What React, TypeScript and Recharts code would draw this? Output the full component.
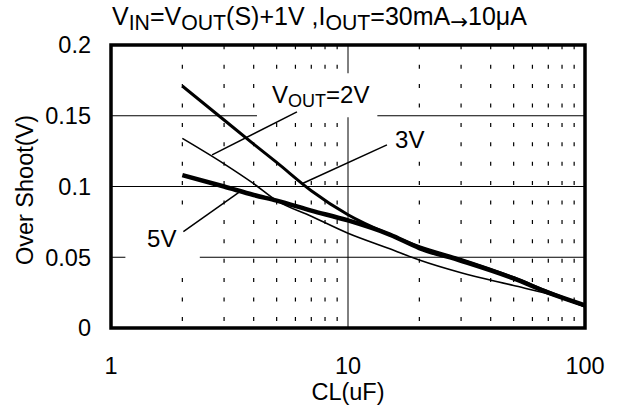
import {
  LineChart,
  Line,
  XAxis,
  YAxis,
  CartesianGrid,
  ReferenceLine,
  ReferenceArea,
  ReferenceDot,
} from 'recharts';

// CL (uF) sample points, shared by all three curves
const CL = [2, 3, 4, 5, 7, 10, 15, 20, 30, 50, 70, 100];

// over shoot (V) per output voltage
const VOUT_2V = [0.134, 0.116, 0.102, 0.09, 0.079, 0.067, 0.056, 0.048, 0.039, 0.03, 0.024, 0.015];
const VOUT_3V = [0.171, 0.147, 0.13, 0.117, 0.097, 0.08, 0.066, 0.0575, 0.0485, 0.0355, 0.0255, 0.0155];
const VOUT_5V = [0.108, 0.1, 0.094, 0.09, 0.083, 0.076, 0.066, 0.0565, 0.0475, 0.035, 0.025, 0.016];

const X_TICKS = [1, 10, 100];
const Y_TICKS = [0, 0.05, 0.1, 0.15, 0.2];
const MINOR_X = [2, 3, 4, 5, 6, 7, 8, 9, 20, 30, 40, 50, 60, 70, 80, 90];
const MAJOR_X = [10];
const GRID_Y = [0.05, 0.1, 0.15];

const data = CL.map((cl, i) => ({
  cl,
  v2: VOUT_2V[i],
  v3: VOUT_3V[i],
  v5: VOUT_5V[i],
}));

const FONT = 'Arial, "Liberation Sans", sans-serif';
const TICK_SIZE = 23.5;
const LABEL_SIZE = 24;

// white boxes behind the curve labels (they blank out the grid)
const labelBoxes = [
  { x1: 4.13, x2: 13.3, y1: 0.149, y2: 0.18 },
  { x1: 13.7, x2: 23.3, y1: 0.119, y2: 0.147 },
  { x1: 1.15, x2: 2.37, y1: 0.041, y2: 0.08 },
];

// leader lines from label to curve
const leaders = [
  [{ x: 6.09, y: 0.1527 }, { x: 2.67, y: 0.1223 }],
  [{ x: 14.6, y: 0.1294 }, { x: 6.46, y: 0.1023 }],
  [{ x: 2.02, y: 0.0681 }, { x: 3.5, y: 0.0964 }],
];

function CurveLabel(props: any) {
  const { cx, cy, name } = props;
  if (name === '2V') {
    return (
      <text x={cx} y={cy} fontSize={LABEL_SIZE} fontFamily={FONT} fill="#000">
        <tspan>V</tspan>
        <tspan fontSize={18} dy={4}>OUT</tspan>
        <tspan dy={-4}>=2V</tspan>
      </text>
    );
  }
  return (
    <text x={cx} y={cy} fontSize={LABEL_SIZE} fontFamily={FONT} fill="#000">
      {name}
    </text>
  );
}

const sub = { fontSize: '0.85em', position: 'relative' as const, top: 5 };

export default function App() {
  return (
    <div style={{ position: 'relative', width: 620, height: 409, background: '#fff', fontFamily: FONT }}>
      <style>{'body{margin:0}'}</style>
      <div
        style={{
          position: 'absolute',
          left: 112,
          top: 2,
          fontSize: 25,
          color: '#000',
          whiteSpace: 'nowrap',
          lineHeight: '28px',
        }}
      >
        V<span style={sub}>IN</span>=V<span style={sub}>OUT</span>(S)+1V ,I<span style={sub}>OUT</span>=30mA
        <span style={{ fontSize: '0.85em', fontFamily: '"DejaVu Sans", sans-serif', position: 'relative', top: 4 }}>→</span>10μA
      </div>
      <div
        style={{
          position: 'absolute',
          left: 25,
          top: 190,
          transform: 'translate(-50%, -50%) rotate(-90deg)',
          fontSize: TICK_SIZE,
          color: '#000',
          whiteSpace: 'nowrap',
        }}
      >
        Over Shoot(V)
      </div>
      <LineChart
        width={620}
        height={409}
        data={data}
        margin={{ top: 45, right: 35, left: 51, bottom: 31 }}
      >
        <CartesianGrid
          horizontal={false}
          verticalValues={MINOR_X}
          stroke="#000"
          strokeWidth={1.2}
          strokeDasharray="4 15.4"
          strokeDashoffset={19.1}
        />
        <CartesianGrid verticalValues={MAJOR_X} horizontalValues={GRID_Y} stroke="#000" strokeWidth={1} />
        <XAxis
          dataKey="cl"
          type="number"
          scale="log"
          domain={[1, 100]}
          ticks={X_TICKS}
          interval={0}
          allowDataOverflow
          axisLine={false}
          tickLine={false}
          tickSize={0}
          tickMargin={29}
          height={50}
          tick={{ fill: '#000', fontSize: TICK_SIZE, fontFamily: FONT }}
          label={{ value: 'CL(uF)', position: 'bottom', offset: 5, fill: '#000', fontSize: TICK_SIZE, fontFamily: FONT }}
        />
        <YAxis
          type="number"
          domain={[0, 0.2]}
          ticks={Y_TICKS}
          interval={0}
          allowDataOverflow
          width={60}
          axisLine={false}
          tickLine={false}
          tickSize={0}
          tickMargin={20}
          tickFormatter={(v: number) => String(v)}
          tick={{ fill: '#000', fontSize: TICK_SIZE, fontFamily: FONT }}
        />
        {labelBoxes.map((b, i) => (
          <ReferenceArea key={'box' + i} {...b} fill="#fff" fillOpacity={1} stroke="none" />
        ))}
        {leaders.map((seg, i) => (
          <ReferenceLine key={'lead' + i} segment={seg} stroke="#000" strokeWidth={1.5} />
        ))}
        <Line dataKey="v2" type="monotone" stroke="#000" strokeWidth={1.6} dot={false} isAnimationActive={false} />
        <Line dataKey="v3" type="monotone" stroke="#000" strokeWidth={3} dot={false} isAnimationActive={false} />
        <Line dataKey="v5" type="monotone" stroke="#000" strokeWidth={4.5} dot={false} isAnimationActive={false} />
        <ReferenceDot x={4.78} y={0.159} r={0} shape={(p: any) => <CurveLabel {...p} name="2V" />} />
        <ReferenceDot x={15.8} y={0.1273} r={0} shape={(p: any) => <CurveLabel {...p} name="3V" />} />
        <ReferenceDot x={1.42} y={0.0573} r={0} shape={(p: any) => <CurveLabel {...p} name="5V" />} />
        <ReferenceArea x1={1} x2={100} y1={0} y2={0.2} fill="none" stroke="#000" strokeWidth={3.5} />
      </LineChart>
    </div>
  );
}
